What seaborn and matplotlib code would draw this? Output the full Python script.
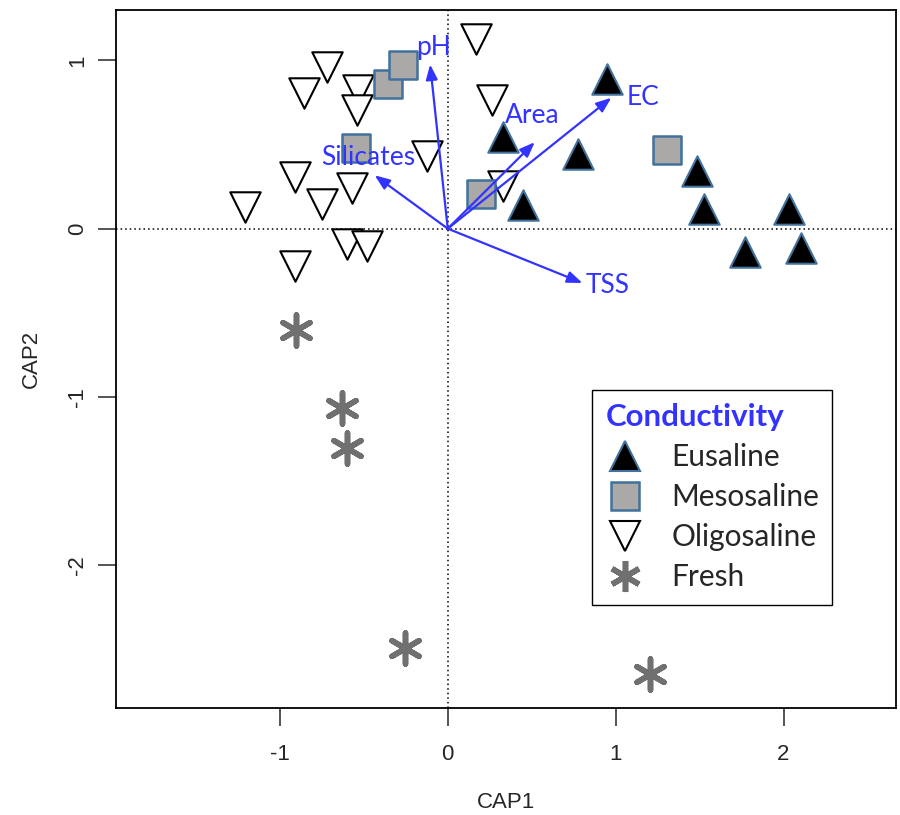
import numpy as np
import pandas as pd
import matplotlib
matplotlib.use("Agg")
import matplotlib.pyplot as plt
import seaborn as sns
from matplotlib.lines import Line2D

# site scores
eu_x = [0.950, 0.331, 0.778, 1.486, 0.450, 1.526, 2.032, 1.768, 2.105]
eu_y = [0.890, 0.545, 0.446, 0.341, 0.138, 0.116, 0.116, -0.140, -0.117]

meso_x = [-0.354, -0.267, -0.548, 0.196, 1.305]
meso_y = [0.863, 0.974, 0.480, 0.208, 0.470]

oligo_x = [-0.722, -0.859, -0.536, -0.543, -0.125, -0.911, -0.570, -0.750,
           -1.208, -0.603, -0.478, -0.911, 0.167, 0.262, 0.327]
oligo_y = [0.960, 0.808, 0.824, 0.705, 0.430, 0.310, 0.244, 0.149,
           0.128, -0.094, -0.101, -0.220, 1.130, 0.762, 0.252]

fresh_x = [-0.905, -0.631, -0.603, -0.254, 1.204]
fresh_y = [-0.601, -1.067, -1.305, -2.496, -2.645]

# environmental vectors (biplot arrows)
env_names = ["pH", "Silicates", "Area", "EC", "TSS"]
env_x = [-0.105, -0.435, 0.518, 0.974, 0.802]
env_y = [0.976, 0.317, 0.514, 0.778, -0.323]

groups = ["Eusaline", "Mesosaline", "Oligosaline", "Fresh"]

df = pd.concat([
    pd.DataFrame({"CAP1": eu_x, "CAP2": eu_y, "group": "Eusaline"}),
    pd.DataFrame({"CAP1": meso_x, "CAP2": meso_y, "group": "Mesosaline"}),
    pd.DataFrame({"CAP1": oligo_x, "CAP2": oligo_y, "group": "Oligosaline"}),
    pd.DataFrame({"CAP1": fresh_x, "CAP2": fresh_y, "group": "Fresh"}),
], ignore_index=True)

blue = "#3333FF"
edge_blue = "#41719C"
asterisk = (6, 2, 0)
styles = {
    "Eusaline": dict(marker="^", s=480, color="black", edgecolor=edge_blue, linewidth=1.5),
    "Mesosaline": dict(marker="s", s=400, color="#ABA8A8", edgecolor=edge_blue, linewidth=1.8),
    "Oligosaline": dict(marker="v", s=480, color="white", edgecolor="black", linewidth=1.5),
    "Fresh": dict(marker=asterisk, s=500, color="#707070", edgecolor="#707070", linewidth=4.0),
}
label_font = ["Lato", "DejaVu Sans"]

sns.set_style("white")
plt.rcParams["font.family"] = ["Liberation Sans", "DejaVu Sans"]

fig = plt.figure(figsize=(9, 8.15), dpi=100)
ax = fig.add_axes([116 / 900, 1 - 708 / 815, 780 / 900, 698 / 815])

ax.axhline(0, color="black", linestyle=(0, (1, 2)), linewidth=1.1, zorder=1)
ax.axvline(0, color="black", linestyle=(0, (1, 2)), linewidth=1.1, zorder=1)

# draw order: oligo first so others overlap like in the original
for g in ["Oligosaline", "Mesosaline", "Eusaline", "Fresh"]:
    sub = df[df["group"] == g]
    sns.scatterplot(data=sub, x="CAP1", y="CAP2", ax=ax, legend=False, zorder=3, **styles[g])

label_offsets = {"pH": (3, 17), "Silicates": (-6, 18), "Area": (-2, 27), "EC": (32, 0), "TSS": (25, -3)}
for name, ex, ey in zip(env_names, env_x, env_y):
    ax.annotate("", xy=(ex, ey), xytext=(0, 0),
                arrowprops=dict(arrowstyle="-|>,head_length=0.9,head_width=0.35",
                                color=blue, lw=1.6, shrinkA=0, shrinkB=0), zorder=4)
    dx, dy = label_offsets[name]
    ax.annotate(name, xy=(ex, ey), xytext=(dx, dy), textcoords="offset pixels",
                ha="center", va="center", color=blue, fontsize=19,
                family=label_font, zorder=5)

ax.set_xlim(-1.976, 2.67)
ax.set_ylim(-2.85, 1.30)
ax.set_xticks([-1, 0, 1, 2])
ax.set_yticks([-2, -1, 0, 1])
ax.set_xticklabels(["-1", "0", "1", "2"])
ax.set_yticklabels(["-2", "-1", "0", "1"], rotation=90, va="center")
ax.tick_params(axis="both", direction="out", length=13, width=1.1, labelsize=16,
               bottom=True, left=True)
ax.tick_params(axis="x", pad=13)
ax.tick_params(axis="y", pad=7)
ax.set_xlabel("CAP1", fontsize=16, labelpad=19)
ax.set_ylabel("CAP2", fontsize=16, labelpad=18)
for sp in ax.spines.values():
    sp.set_color("black")
    sp.set_linewidth(1.3)

handles = [Line2D([], [], linestyle="none", marker=styles[g]["marker"],
                  markersize=np.sqrt(styles[g]["s"]),
                  markerfacecolor=styles[g]["color"],
                  markeredgecolor=styles[g]["edgecolor"],
                  markeredgewidth=styles[g]["linewidth"]) for g in groups]
leg = ax.legend(handles, groups, title="Conductivity", loc="upper left",
                bbox_to_anchor=((592 - 116) / 780, (708 - 390) / 698), borderaxespad=0,
                frameon=True, fancybox=False, edgecolor="black", framealpha=1,
                prop={"family": label_font, "size": 21.5},
                handletextpad=0.9, labelspacing=0.4, borderpad=0.45, handlelength=1.3)
leg.get_frame().set_linewidth(1.0)
title = leg.get_title()
title.set_color(blue)
title.set_fontweight("bold")
title.set_fontsize(22.5)
title.set_family(label_font)
leg._legend_box.align = "left"

fig.savefig("out.png", dpi=100)
